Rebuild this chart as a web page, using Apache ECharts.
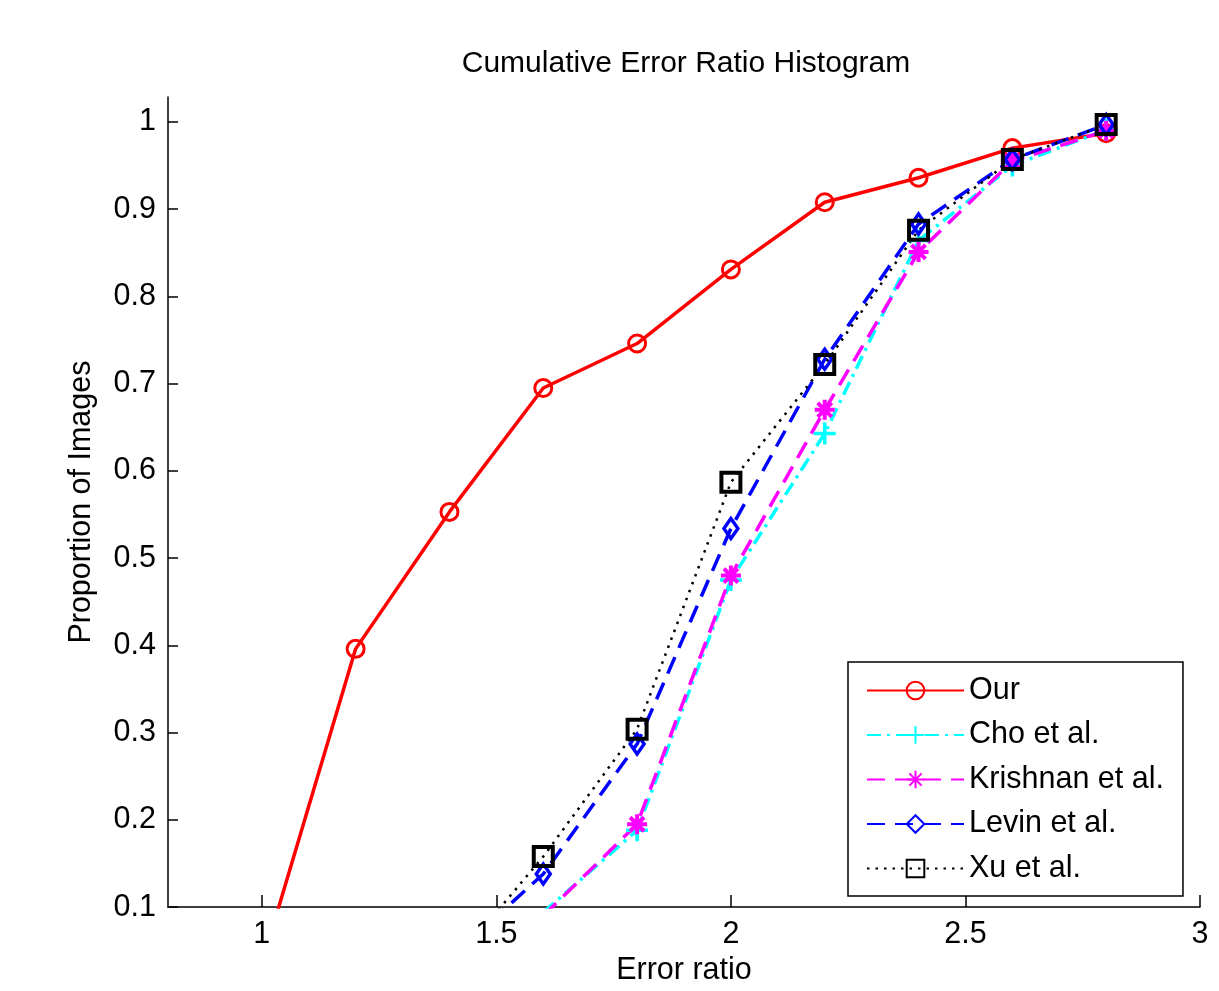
<!DOCTYPE html>
<html><head><meta charset="utf-8">
<script src="https://cdn.jsdelivr.net/npm/echarts@6/dist/echarts.min.js"></script>
<style>html,body{margin:0;padding:0;background:#fff}#c{width:1219px;height:991px}</style>
</head><body><div id="c"></div>
<script>
const xVals = [1.0, 1.2, 1.4, 1.6, 1.8, 2.0, 2.2, 2.4, 2.6, 2.8];
const ourVals = [0.035, 0.396, 0.553, 0.695, 0.746, 0.831, 0.908, 0.936, 0.970, 0.987];
const choVals = [null, null, null, 0.094, 0.188, 0.475, 0.643, 0.864, 0.950, 0.991];
const krishnanVals = [null, null, null, 0.090, 0.195, 0.480, 0.670, 0.851, 0.955, 0.990];
const levinVals = [null, null, 0.040, 0.138, 0.287, 0.534, 0.728, 0.883, 0.957, 0.997];
const xuVals = [null, null, 0.030, 0.158, 0.304, 0.587, 0.722, 0.876, 0.957, 0.997];
const xTicks = [1, 1.5, 2, 2.5, 3];
const yTicks = [0.1, 0.2, 0.3, 0.4, 0.5, 0.6, 0.7, 0.8, 0.9, 1.0];
const seriesNames = ['Our', 'Cho et al.', 'Krishnan et al.', 'Levin et al.', 'Xu et al.'];

function pairs(vals) {
  const out = [];
  xVals.forEach((x, i) => { if (vals[i] !== null) out.push([x, vals[i]]); });
  return out;
}
const FONT = '"Liberation Sans", Arial, sans-serif';
const FS = 30.5;
const plusPath = 'path://M0,10H20M10,0V20';
const starPath = 'path://M0,10H20M10,0V20M3,3L17,17M17,3L3,17';

const chart = echarts.init(document.getElementById('c'), null, {renderer: 'canvas'});
chart.setOption({
  animation: false,
  backgroundColor: '#fff',
  title: {
    text: 'Cumulative Error Ratio Histogram',
    left: 681, top: 44, textAlign: 'center',
    textStyle: {fontFamily: FONT, fontSize: 30, fontWeight: 'normal', color: '#000'}
  },
  grid: {left: 168, right: 19, top: 97, bottom: 81, containLabel: false},
  xAxis: {
    type: 'value', min: 0.8, max: 3,
    name: 'Error ratio', nameLocation: 'middle', nameGap: 47,
    nameTextStyle: {fontFamily: FONT, fontSize: FS, color: '#000'},
    axisLine: {onZero: false, lineStyle: {color: '#000', width: 1.5}},
    axisTick: {inside: true, length: 12, customValues: xTicks, lineStyle: {color: '#000', width: 1.5}},
    axisLabel: {customValues: xTicks, margin: 12, fontFamily: FONT, fontSize: FS, color: '#000',
      formatter: v => String(v)},
    splitLine: {show: false}
  },
  yAxis: {
    type: 'value', min: 0.1, max: 1.0286,
    name: 'Proportion of Images', nameLocation: 'middle', nameGap: 71, nameRotate: 90,
    nameTextStyle: {fontFamily: FONT, fontSize: FS, color: '#000'},
    axisLine: {onZero: false, lineStyle: {color: '#000', width: 1.5}},
    axisTick: {inside: true, length: 10, customValues: yTicks, lineStyle: {color: '#000', width: 1.5}},
    axisLabel: {customValues: yTicks, margin: 12, fontFamily: FONT, fontSize: FS, color: '#000',
      formatter: v => String(Math.round(v * 10) / 10)},
    splitLine: {show: false}
  },
  legend: {
    orient: 'vertical', left: 848, top: 662,
    data: seriesNames,
    backgroundColor: '#fff', borderColor: '#000', borderWidth: 1.5,
    padding: [13, 19, 12, 18],
    itemWidth: 97, itemHeight: 22, itemGap: 13.5,
    textStyle: {fontFamily: FONT, fontSize: FS, color: '#000', lineHeight: 30}
  },
  series: [
    {name: seriesNames[0], type: 'line', data: pairs(ourVals), clip: true,
      symbol: 'circle', symbolSize: 17,
      lineStyle: {color: '#ff0000', width: 3.5},
      itemStyle: {color: 'rgba(0,0,0,0)', borderColor: '#ff0000', borderWidth: 3}},
    {name: seriesNames[1], type: 'line', data: pairs(choVals), clip: true,
      symbol: plusPath, symbolSize: 22, symbolKeepAspect: true,
      lineStyle: {color: '#00ffff', width: 3.5, type: [14, 6, 3, 6]},
      itemStyle: {color: 'rgba(0,0,0,0)', borderColor: '#00ffff', borderWidth: 3.5}},
    {name: seriesNames[2], type: 'line', data: pairs(krishnanVals), clip: true,
      symbol: starPath, symbolSize: 20, symbolKeepAspect: true,
      lineStyle: {color: '#ff00ff', width: 3.5, type: [18, 10]},
      itemStyle: {color: 'rgba(0,0,0,0)', borderColor: '#ff00ff', borderWidth: 4}},
    {name: seriesNames[3], type: 'line', data: pairs(levinVals), clip: true,
      symbol: 'diamond', symbolSize: [14, 20],
      lineStyle: {color: '#0000ff', width: 3.5, type: [18, 10]},
      itemStyle: {color: 'rgba(0,0,0,0)', borderColor: '#0000ff', borderWidth: 3.5}},
    {name: seriesNames[4], type: 'line', data: pairs(xuVals), clip: true,
      symbol: 'rect', symbolSize: 19,
      lineStyle: {color: '#000000', width: 2.5, type: [2.5, 6]},
      itemStyle: {color: 'rgba(0,0,0,0)', borderColor: '#000000', borderWidth: 4}}
  ]
});
</script>
</body></html>
